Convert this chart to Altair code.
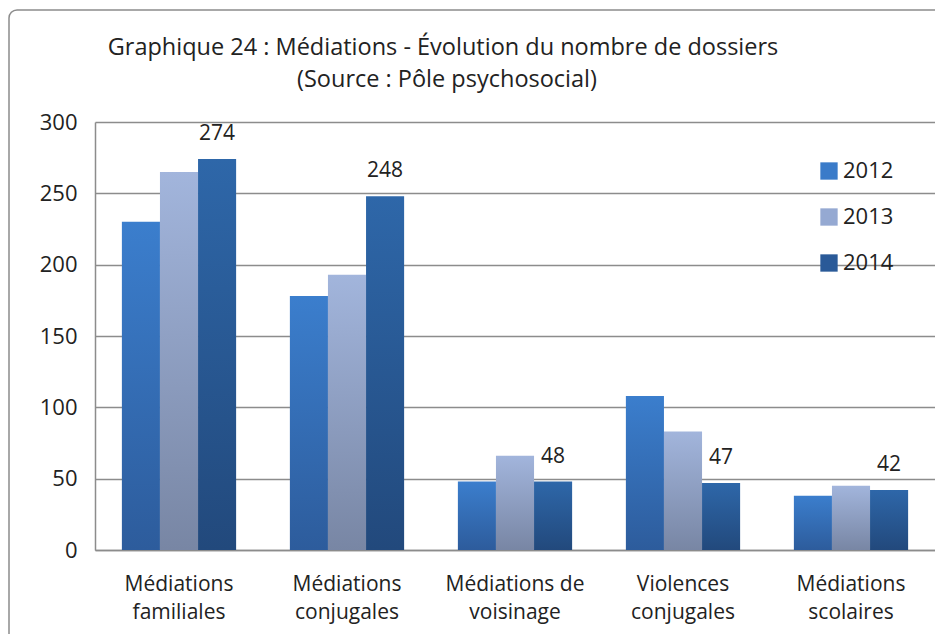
import altair as alt
import pandas as pd

categories = ["Médiations\nfamiliales", "Médiations\nconjugales", "Médiations de\nvoisinage",
              "Violences\nconjugales", "Médiations\nscolaires"]
years = ["2012", "2013", "2014"]
v2012 = [230, 178, 48, 108, 38]
v2013 = [265, 193, 66, 83, 45]
v2014 = [274, 248, 48, 47, 42]
title_lines = ["Graphique 24 : Médiations - Évolution du nombre de dossiers",
               "(Source : Pôle psychosocial)"]

rows = []
for i, c in enumerate(categories):
    for y, vals in zip(years, [v2012, v2013, v2014]):
        rows.append({"cat": c, "year": y, "value": vals[i]})
df = pd.DataFrame(rows)

FONT = "Open Sans"
grads = {
    "2012": ("#3b7ecd", "#2d5c9c"),
    "2013": ("#a2b5dc", "#7886a4"),
    "2014": ("#2e67a9", "#22497c"),
}
solid = ["#3a7bc9", "#95a9d2", "#2a5a98"]

x = alt.X("cat:N", sort=categories, title=None,
          scale=alt.Scale(paddingInner=0.32, paddingOuter=0.16),
          axis=alt.Axis(labelExpr="split(datum.label, '\\n')", labelAngle=0,
                        labelFontSize=21, labelFont=FONT, labelColor="#222222",
                        labelLineHeight=28, labelPadding=23, ticks=False,
                        domainColor="#8c8c8c", domainWidth=1.5))
xo = alt.XOffset("year:N", sort=years, scale=alt.Scale(paddingInner=0))
yy = alt.Y("value:Q", title=None,
           scale=alt.Scale(domain=[0, 300], nice=False),
           axis=alt.Axis(values=[0, 50, 100, 150, 200, 250, 300], labelFontSize=22,
                         labelFont=FONT, labelColor="#222222", labelPadding=18,
                         ticks=False, grid=True, gridColor="#8c8c8c", gridWidth=1.5,
                         domainColor="#8c8c8c", domainWidth=1.5))

base = alt.Chart(df)
layers = []
for yr in years:
    top, bot = grads[yr]
    g = alt.Gradient(gradient="linear", x1=0, x2=0, y1=0, y2=1,
                     stops=[alt.GradientStop(color=top, offset=0),
                            alt.GradientStop(color=bot, offset=1)])
    layers.append(base.transform_filter(alt.datum.year == yr)
                  .mark_bar(color=g).encode(x=x, xOffset=xo, y=yy))

legend_layer = base.mark_square(size=0, filled=True).encode(
    x=x, xOffset=xo, y=yy,
    color=alt.Color("year:N", sort=years, scale=alt.Scale(domain=years, range=solid),
                    legend=alt.Legend(title=None, orient="none", legendX=723, legendY=38,
                                      symbolType="square", symbolSize=300,
                                      symbolOpacity=1, symbolStrokeWidth=0,
                                      labelFontSize=22, labelFont=FONT, labelColor="#222222",
                                      rowPadding=24, labelOffset=3)))

labels = base.transform_filter(alt.datum.year == "2014").mark_text(
    baseline="bottom", dy=-15, fontSize=21, font=FONT, color="#222222"
).encode(x=x, xOffset=xo, y=yy, text="value:Q")

one = pd.DataFrame({"a": [0]})
frame = alt.Chart(one).mark_rect(
    fill=None, stroke="#8c8c8c", strokeWidth=1.5, cornerRadius=8
).encode(x=alt.value(-86), x2=alt.value(900), y=alt.value(-112), y2=alt.value(700))

t1 = alt.Chart(one).mark_text(fontSize=23.5, font=FONT, color="#222222", baseline="middle").encode(
    x=alt.value(348), y=alt.value(-74), text=alt.value(title_lines[0]))
t2 = alt.Chart(one).mark_text(fontSize=23.5, font=FONT, color="#222222", baseline="middle").encode(
    x=alt.value(352), y=alt.value(-42), text=alt.value(title_lines[1]))

chart = alt.layer(frame, *layers, legend_layer, labels, t1, t2).properties(
    width=840, height=428,
    autosize=alt.AutoSizeParams(type="none"),
    padding={"left": 87, "top": 114, "right": 0, "bottom": 84},
).configure_view(stroke=None)

chart.save("out.html", embed_options={"renderer": "svg", "actions": False})
